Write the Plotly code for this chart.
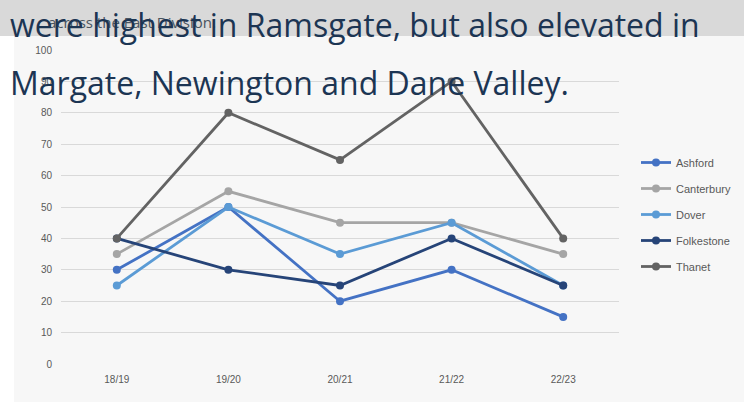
import plotly.graph_objects as go

categories = ["18/19", "19/20", "20/21", "21/22", "22/23"]
ashford = [30, 50, 20, 30, 15]
canterbury = [35, 55, 45, 45, 35]
dover = [25, 50, 35, 45, 25]
folkestone = [40, 30, 25, 40, 25]
thanet = [40, 80, 65, 90, 40]

series = [
    ("Ashford", ashford, "#4472C4"),
    ("Canterbury", canterbury, "#A5A5A5"),
    ("Dover", dover, "#5B9BD5"),
    ("Folkestone", folkestone, "#264478"),
    ("Thanet", thanet, "#636363"),
]

W, H = 744, 402
L, R, T, B = 61, 619, 50, 364

def px(x):
    return (x - L) / (R - L)

def py(y):
    return (B - y) / (B - T)

fig = go.Figure()
for i, (name, vals, col) in enumerate(series):
    fig.add_trace(go.Scatter(
        x=categories, y=vals, name=name, mode="lines+markers",
        line=dict(color=col, width=2.8),
        marker=dict(color=col, size=8),
        legendgroup=f"g{i}",
    ))

shapes = [
    dict(type="rect", xref="paper", yref="paper", x0=px(14), x1=px(744), y0=py(402), y1=py(36),
         fillcolor="#f7f7f7", line=dict(width=0), layer="below"),
    dict(type="rect", xref="paper", yref="paper", x0=px(0), x1=px(744), y0=py(36), y1=py(0),
         fillcolor="#d9d9d9", line=dict(width=0), layer="below"),
]

annotations = [
    dict(text="across the East Division.", xref="paper", yref="paper", x=px(46), y=py(22),
         xanchor="left", yanchor="middle", showarrow=False,
         font=dict(family="Open Sans", size=15, color="#4a5560")),
    dict(text="were highest in Ramsgate, but also elevated in", xref="paper", yref="paper",
         x=px(8), y=py(24), xanchor="left", yanchor="middle", showarrow=False,
         font=dict(family="Open Sans", size=32, color="#1c3553")),
    dict(text="Margate, Newington and Dane Valley.", xref="paper", yref="paper",
         x=px(8), y=py(82), xanchor="left", yanchor="middle", showarrow=False,
         font=dict(family="Open Sans", size=32, color="#1c3553")),
]

fig.update_layout(
    width=W, height=H,
    margin=dict(l=L, r=W - R, t=T, b=H - B, autoexpand=False),
    paper_bgcolor="white",
    plot_bgcolor="rgba(0,0,0,0)",
    shapes=shapes,
    annotations=annotations,
    showlegend=True,
    legend=dict(
        x=px(636), y=py(148), xanchor="left", yanchor="top",
        bgcolor="rgba(0,0,0,0)", font=dict(family="Liberation Sans Narrow, Liberation Sans", size=11, color="#595959"),
        traceorder="grouped", tracegroupgap=7, itemwidth=30,
    ),
    xaxis=dict(
        range=[-0.5, 4.5], showgrid=False, showline=False, zeroline=False,
        tickfont=dict(family="Liberation Sans Narrow, Liberation Sans", size=10, color="#595959"),
        ticks="", ticklabelstandoff=8,
    ),
    yaxis=dict(
        range=[0, 100], dtick=10, showgrid=True, gridcolor="#d9d9d9", gridwidth=1,
        zeroline=False, showline=False,
        tickfont=dict(family="Liberation Sans Narrow, Liberation Sans", size=10, color="#595959"),
        ticks="", ticklabelstandoff=8,
    ),
)

fig.write_html("out.html", config={"displayModeBar": False},
               post_script="document.body.style.margin='0';document.body.style.overflow='hidden';")
